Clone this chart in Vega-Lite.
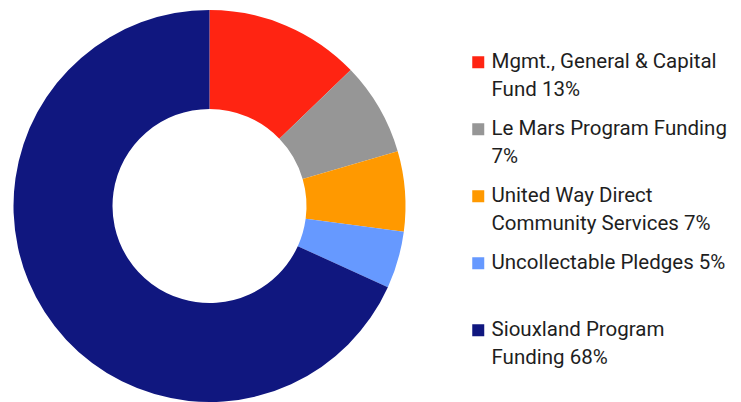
{
  "$schema": "https://vega.github.io/schema/vega-lite/v6.json",
  "autosize": {"type": "pad"},
  "padding": 0,
  "width": 419,
  "height": 412,
  "background": "white",
  "config": {
    "style": {"guide-label": {"lineHeight": 28}}
  },
  "data": {
    "values": [
      {"category": "Mgmt., General & Capital\nFund 13%", "value": 12.8, "order": 1},
      {"category": "Le Mars Program Funding\n7%", "value": 7.7, "order": 2},
      {"category": "United Way Direct\nCommunity Services 7%", "value": 6.6, "order": 3},
      {"category": "Uncollectable Pledges 5%", "value": 4.7, "order": 4},
      {"category": "Siouxland Program\nFunding 68%", "value": 68.2, "order": 5}
    ]
  },
  "mark": {"type": "arc", "outerRadius": 196, "innerRadius": 97},
  "encoding": {
    "theta": {"field": "value", "type": "quantitative", "stack": true},
    "order": {"field": "order", "type": "quantitative"},
    "color": {
      "field": "category",
      "type": "nominal",
      "sort": null,
      "scale": {
        "domain": [
          "Mgmt., General & Capital\nFund 13%",
          "Le Mars Program Funding\n7%",
          "United Way Direct\nCommunity Services 7%",
          "Uncollectable Pledges 5%",
          "Siouxland Program\nFunding 68%"
        ],
        "range": ["#FF2412", "#969696", "#FF9900", "#6699FF", "#10177F"]
      },
      "legend": {
        "title": null,
        "orient": "none",
        "legendX": 468,
        "legendY": 52,
        "padding": 0,
        "symbolType": "square",
        "symbolSize": 144,
        "symbolStrokeWidth": 0,
        "symbolOffset": 0,
        "labelOffset": 3,
        "labelFont": "Roboto",
        "labelFontSize": 20.5,
        "labelColor": "#1e1e1e",
        "labelLimit": 300,
        "labelBaseline": "middle",
        "labelExpr": "split(datum.label, '\\n')",
        "gridAlign": "all",
        "rowPadding": 18
      }
    }
  }
}
